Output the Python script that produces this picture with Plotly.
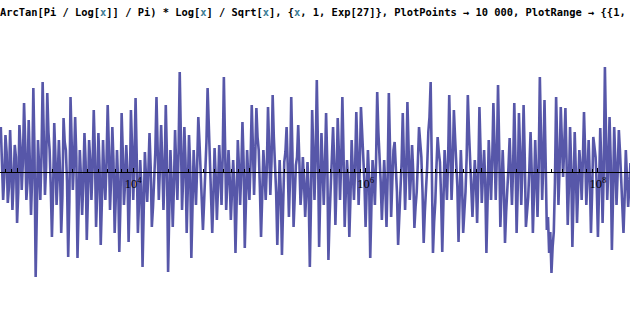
import plotly.graph_objects as go

# Values of the plotted function.
# Main samples at log10(x) = 2.86, 2.88, ... ; intermediate samples halfway between them.
log10_x_start = 2.86
log10_x_step = 0.02
y_main = [
    0.45, -0.28, 0.37, -0.31, 0.42, -0.38, 0.27, -0.51, 0.47, -0.18,
    0.69, -0.28, 0.52, -0.43, 0.84, -1.05, 0.32, -0.28, 0.90, -0.23,
    0.79, 0.22, -0.65, 0.49, -0.33, 0.32, -0.61, 0.54, 0.22, -0.85,
    0.75, -0.18, 0.55, -0.86, 0.22, -0.43, 0.39, -0.68, 0.32, -0.28,
    0.62, -0.55, 0.39, -0.73, 0.32, -0.28, 0.67, -0.38, 0.45, -0.61,
    0.22, -0.80, 0.59, -0.33, 0.27, -0.70, 0.62, -0.28, 0.74, -0.61,
    0.12, -0.95, 0.20, -0.30, 0.39, -0.55, -0.10, 0.75, -0.28, 0.47,
    -0.38, 0.67, -1.00, 0.22, -0.55, 0.42, -0.28, 1.00, -0.38, 0.45,
    -0.61, 0.37, -0.86, 0.22, -0.33, 0.55, 0.05, -0.58, 0.02, 0.84,
    0.22, -0.61, 0.24, -0.48, 0.27, -0.33, 0.95, -0.38, 0.22, -0.48,
    0.12, -0.81, 0.32, -0.33, 0.50, -0.76, 0.22, -0.28, 0.67, -0.23,
    0.64, 0.22, -0.65, 0.22, -0.28, 0.65, -0.23, 0.77, 0.07, -0.73,
    0.12, -0.83, 0.10, 0.45, -0.45, 0.75, -0.55, 0.07, 0.47, -0.33,
    0.15, -0.45, 0.10, -0.95, 0.62, -0.28, 0.92, -0.75, 0.39, -0.33,
    0.59, -0.88, -0.20, 0.45, -0.53, 0.54, -0.28, 0.75, -0.55, 0.12,
    -0.65, 0.32, -0.28, 0.60, -0.33, 0.65, 0.20, -0.55, 0.22, -0.86,
    0.12, -0.33, 0.80, 0.20, -0.48, 0.12, -0.55, 0.79, -0.45, 0.22,
    0.10, -0.73, -0.25, 0.59, -0.38, 0.70, -0.28, 0.27, -0.56, -0.20,
    0.45, 0.15, -0.71, -0.20, 0.40, 0.90, -0.81, -0.30, 0.35, 0.10,
    -0.80, 0.22, -0.28, 0.77, -0.28, 0.62, 0.15, -0.70, 0.22, -0.61,
    -0.20, 0.77, 0.15, -0.45, 0.12, -0.51, 0.65, -0.31, 0.22, -0.81,
    0.32, -0.28, 0.69, -0.28, 0.87, -0.55, 0.22, -0.71, -0.20, 0.34,
    -0.33, 0.69, -0.61, 0.59, -0.33, 0.67, -0.55, -0.25, 0.40, -0.61,
    0.32, -0.45, 0.95, -0.28, 0.72, -0.58, -0.81, -1.01, -0.60, 0.75,
    -0.33, 0.65, -0.05, 0.64, -0.53, 0.45, -0.75, 0.40, -0.51, 0.22,
    -0.28, 0.60, -0.33, 0.32, -0.61, 0.35, 0.15, -0.65, 0.44, -0.51,
    1.05, -0.28, 0.55, -0.78, 0.45, -0.33, 0.42, -0.10, -0.61, 0.22,
    -0.35, 0.09,
]
y_mid = [
    0.10, -0.05, 0.20, -0.15, 0.05, -0.10, 0.15, -0.20, 0.25, 0.10,
    0.30, -0.10, 0.10, -0.05, 0.20, -0.40, 0.05, 0.15, 0.35, 0.05,
    0.40, -0.15, -0.20, 0.15, -0.05, 0.00, -0.25, 0.30, -0.10, -0.30,
    0.30, 0.10, 0.15, -0.35, -0.05, -0.10, 0.10, -0.25, 0.10, 0.05,
    0.20, -0.20, 0.05, -0.30, -0.05, 0.10, 0.25, -0.05, 0.10, -0.25,
    -0.10, -0.30, 0.20, -0.10, 0.00, -0.20, 0.25, 0.10, 0.15, -0.30,
    -0.15, -0.40, -0.05, 0.00, 0.05, -0.35, 0.20, 0.30, 0.05, 0.10,
    0.00, 0.15, -0.40, -0.10, -0.15, 0.05, 0.20, 0.35, -0.05, 0.10,
    -0.15, 0.05, -0.35, -0.05, 0.05, 0.30, -0.20, -0.30, 0.30, 0.45,
    -0.10, -0.25, -0.05, -0.15, 0.00, 0.15, 0.30, -0.10, -0.05, -0.20,
    -0.15, -0.30, 0.05, 0.00, 0.10, -0.30, -0.05, 0.10, 0.25, 0.15,
    0.35, -0.15, -0.25, 0.00, 0.05, 0.25, 0.10, 0.35, -0.20, -0.30,
    -0.20, -0.35, 0.20, 0.05, -0.05, 0.20, -0.25, 0.15, 0.10, -0.15,
    -0.10, -0.20, -0.20, -0.30, 0.20, 0.15, 0.25, -0.20, 0.05, 0.05,
    0.10, -0.45, 0.05, 0.10, -0.10, 0.20, 0.10, 0.20, -0.20, -0.10,
    -0.25, 0.00, 0.05, 0.20, 0.05, 0.40, -0.10, -0.20, -0.05, -0.35,
    -0.05, 0.10, 0.40, -0.10, -0.15, -0.15, -0.05, 0.25, -0.10, 0.30,
    -0.20, -0.45, 0.10, 0.15, 0.00, 0.25, -0.05, 0.00, -0.35, 0.10,
    0.30, -0.20, -0.40, 0.05, 0.55, 0.20, -0.50, 0.05, 0.20, -0.25,
    -0.30, 0.00, 0.10, 0.25, 0.05, 0.35, -0.15, -0.25, -0.10, -0.40,
    0.15, 0.40, -0.10, -0.15, -0.10, -0.05, 0.20, -0.05, -0.10, -0.30,
    0.05, 0.10, 0.25, 0.15, 0.25, -0.20, -0.10, -0.40, 0.05, 0.00,
    0.05, 0.15, -0.15, 0.20, 0.05, 0.15, -0.40, 0.05, 0.00, -0.20,
    -0.05, 0.05, 0.35, 0.10, 0.10, -0.45, -0.60, -0.75, -0.10, 0.25,
    0.05, 0.30, 0.25, 0.10, -0.15, 0.05, -0.25, 0.00, -0.15, 0.05,
    0.10, 0.20, -0.05, -0.05, -0.20, 0.25, -0.15, -0.15, 0.05, 0.00,
    0.35, 0.05, 0.10, -0.25, 0.10, 0.00, 0.20, -0.35, -0.25, -0.05,
    -0.15,
]

points = []
for i, v in enumerate(y_main):
    points.append((log10_x_start + log10_x_step * i, v))
for i, v in enumerate(y_mid):
    points.append((log10_x_start + log10_x_step * (i + 0.5), v))
points.sort()
x_values = [10 ** p[0] for p in points]
y_values = [p[1] for p in points]

major_ticks = [1e3, 1e4, 1e5, 1e6, 1e7, 1e8]
major_labels = ["", "10<sup>4</sup>", "", "10<sup>6</sup>", "", "10<sup>8</sup>"]
minor_ticks = [k * 10 ** e for e in range(2, 9) for k in range(2, 10)]

X = "<span style='color:rgb(60,125,150)'>x</span>"
title_text = (
    "<b>ArcTan[Pi / Log[" + X + "]] / Pi) * Log[" + X + "] / Sqrt[" + X + "], "
    "{" + X + ", 1, Exp[27]}, PlotPoints \u2192 10\u2009000, "
    "PlotRange \u2192 {{1, Exp[27]}, {-2, 2}}</b>"
)

fig = go.Figure()
fig.add_trace(go.Scatter(
    x=x_values, y=y_values, mode="lines",
    line=dict(color="rgba(50,50,150,0.82)", width=2.6),
    hoverinfo="skip",
))

fig.update_layout(
    width=630, height=320,
    margin=dict(l=0, r=0, t=0, b=0),
    paper_bgcolor="white", plot_bgcolor="white",
    showlegend=False,
    xaxis=dict(
        type="log", range=[2.853, 8.276],
        anchor="free", position=0.4625,
        showline=True, linecolor="black", linewidth=1,
        showgrid=False, zeroline=False,
        tickmode="array", tickvals=major_ticks, ticktext=major_labels,
        ticks="inside", ticklen=4, tickcolor="black", tickwidth=1,
        tickfont=dict(family="Liberation Serif", size=12.5, color="black"),
        minor=dict(tickmode="array", tickvals=minor_ticks, ticks="inside",
                   ticklen=3, tickcolor="black", tickwidth=1, showgrid=False),
    ),
    yaxis=dict(range=[-1.48, 1.72], visible=False),
    annotations=[dict(
        text=title_text, xref="paper", yref="paper",
        x=0, y=1, xanchor="left", yanchor="top", xshift=-2, yshift=-4,
        showarrow=False, align="left",
        font=dict(family="DejaVu Sans Mono", size=10.4, color="black"),
    )],
)

fig.write_html("out.html")
